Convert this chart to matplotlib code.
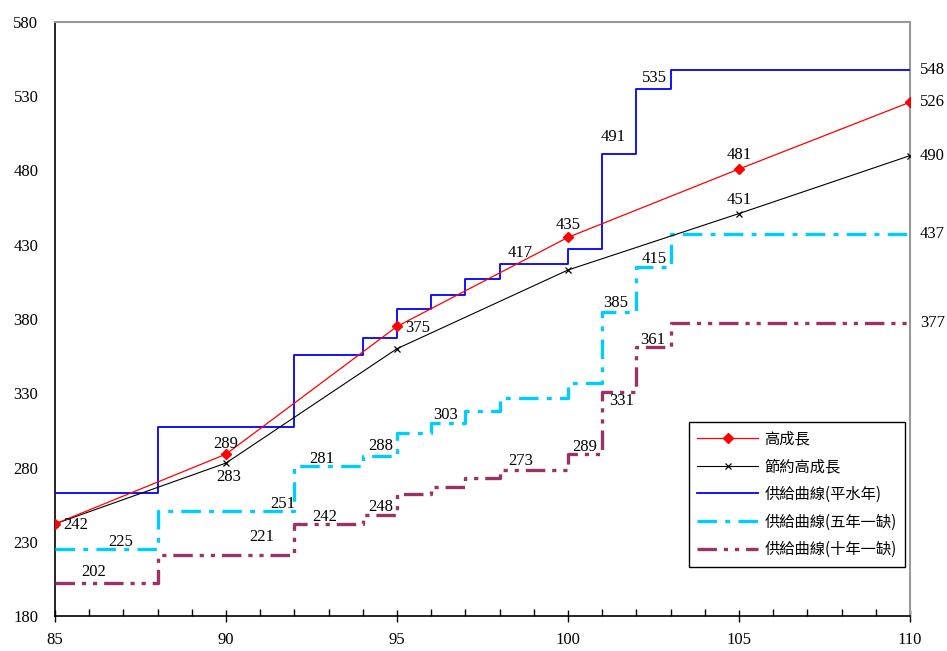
import matplotlib
matplotlib.use("Agg")
import matplotlib.pyplot as plt
from matplotlib.ticker import MultipleLocator

plt.rcParams['lines.scale_dashes'] = False

# ---- data ----
growth_years = [85, 90, 95, 100, 105, 110]
high_growth = [242, 289, 375, 435, 481, 526]
saving_growth = [242, 283, 360, 413, 451, 490]

step_years = [85, 88, 92, 94, 95, 96, 97, 98, 100, 101, 102, 103, 110]
supply_normal = [263, 307, 356, 367, 387, 396, 407, 417, 427, 491, 535, 548]
supply_5yr = [225, 251, 281, 288, 303, 310, 318, 327, 337, 385, 415, 437]
supply_10yr = [202, 221, 242, 248, 262, 267, 273, 278, 289, 331, 361, 377]

names = ['高成長', '節約高成長', '供給曲線(平水年)', '供給曲線(五年一缺)', '供給曲線(十年一缺)']

y_ticks = [180, 230, 280, 330, 380, 430, 480, 530, 580]
x_ticks = [85, 90, 95, 100, 105, 110]

fig = plt.figure(figsize=(9.47, 6.51), dpi=100)
ax = fig.add_axes([55/947, 1-616/651, (910-55)/947, (616-22)/651])

def steps(vals):
    return vals + [vals[-1]]

ax.plot(growth_years, high_growth, color='#ff0000', lw=0.9, marker='D', ms=5.5,
        label=names[0], zorder=5)
ax.plot(growth_years, saving_growth, color='black', lw=0.8, marker='x', ms=5,
        mew=0.9, label=names[1], zorder=4)
ax.step(step_years, steps(supply_normal), where='post', color='#0000ff', lw=1.3,
        label=names[2], zorder=3)
ax.step(step_years, steps(supply_5yr), where='post', color='#00ccff', lw=2.4,
        linestyle=(0, (14, 6, 3.5, 6)), label=names[3], zorder=3)
ax.step(step_years, steps(supply_10yr), where='post', color='#993366', lw=2.4,
        linestyle=(0, (14, 5, 3, 5, 3, 5)), label=names[4], zorder=3)

lab = dict(fontsize=12, family='Liberation Serif', color='black', zorder=6)

def note(text, x, y, dx, dy, ha='center'):
    ax.annotate(text, (x, y), xytext=(dx, dy), textcoords='offset points',
                ha=ha, va='center', **lab)

# growth labels
note(str(high_growth[0]), growth_years[0], high_growth[0], 6, -1, 'left')
note(str(high_growth[1]), growth_years[1], high_growth[1], 0, 7)
note(str(saving_growth[1]), growth_years[1], saving_growth[1], 2, -10)
note(str(high_growth[2]), growth_years[2], high_growth[2], 6, -1, 'left')
note(str(high_growth[3]), growth_years[3], high_growth[3], 0, 9)
note(str(high_growth[4]), growth_years[4], high_growth[4], 0, 10)
note(str(saving_growth[4]), growth_years[4], saving_growth[4], 0, 10)
note(str(high_growth[5]), growth_years[5], high_growth[5], 7, 0, 'left')
note(str(saving_growth[5]), growth_years[5], saving_growth[5], 7, 0, 'left')

# right-edge step labels
note(str(supply_normal[-1]), step_years[-1], supply_normal[-1], 7, 0, 'left')
note(str(supply_5yr[-1]), step_years[-1], supply_5yr[-1], 7, 0, 'left')
note(str(supply_10yr[-1]), step_years[-1], supply_10yr[-1], 7, 0, 'left')

# blue step labels
note(str(supply_normal[7]), step_years[7], supply_normal[7], 15, 8)
note(str(supply_normal[9]), step_years[9], supply_normal[9], 8, 12)
note(str(supply_normal[10]), step_years[10], supply_normal[10], 13, 8)

# cyan step labels
note(str(supply_5yr[0]), step_years[0], supply_5yr[0], 47, 5)
note(str(supply_5yr[1]), step_years[1], supply_5yr[1], 90, 5)
note(str(supply_5yr[2]), step_years[2], supply_5yr[2], 20, 5)
note(str(supply_5yr[3]), step_years[3], supply_5yr[3], 13, 7)
note(str(supply_5yr[4]), step_years[4], supply_5yr[4], 35, 13)
note(str(supply_5yr[9]), step_years[9], supply_5yr[9], 10, 6)
note(str(supply_5yr[10]), step_years[10], supply_5yr[10], 13, 6)

# purple step labels
note(str(supply_10yr[0]), step_years[0], supply_10yr[0], 28, 8)
note(str(supply_10yr[1]), step_years[1], supply_10yr[1], 75, 13)
note(str(supply_10yr[2]), step_years[2], supply_10yr[2], 22, 5)
note(str(supply_10yr[3]), step_years[3], supply_10yr[3], 13, 6)
note(str(supply_10yr[6]), step_years[6], supply_10yr[6], 40, 12)
note(str(supply_10yr[8]), step_years[8], supply_10yr[8], 12, 5)
note(str(supply_10yr[9]), step_years[9], supply_10yr[9], 14, -7)
note(str(supply_10yr[10]), step_years[10], supply_10yr[10], 12, 5)

# axes
ax.set_xlim(85, 110)
ax.set_ylim(180, 580)
ax.set_xticks(x_ticks)
ax.set_xticklabels([str(v) for v in x_ticks], family='Liberation Serif', fontsize=12)
ax.xaxis.set_minor_locator(MultipleLocator(1))
ax.set_yticks(y_ticks)
ax.set_yticklabels([str(v) for v in y_ticks], family='Liberation Serif', fontsize=12)
ax.tick_params(axis='x', which='major', direction='inout', length=9, width=1, pad=7)
ax.tick_params(axis='x', which='minor', direction='in', length=5, width=1)
ax.tick_params(axis='y', length=0, pad=12)

ax.spines['left'].set_color('black')
ax.spines['bottom'].set_color('black')
ax.spines['top'].set_color('#999999')
ax.spines['right'].set_color('#999999')
ax.spines['left'].set_linewidth(1.2)
ax.spines['bottom'].set_linewidth(1.2)
ax.spines['top'].set_linewidth(1.5)
ax.spines['right'].set_linewidth(1.5)

leg = ax.legend(loc='upper right', bbox_to_anchor=(0.994, 0.3266), borderaxespad=0,
                prop={'family': ['Noto Sans CJK TC', 'DejaVu Sans'], 'size': 11},
                fancybox=False, edgecolor='black', framealpha=1,
                handlelength=4.0, labelspacing=0.7, borderpad=0.55,
                handletextpad=0.4)
leg.get_frame().set_linewidth(1.0)

fig.savefig('out.png', dpi=100)
